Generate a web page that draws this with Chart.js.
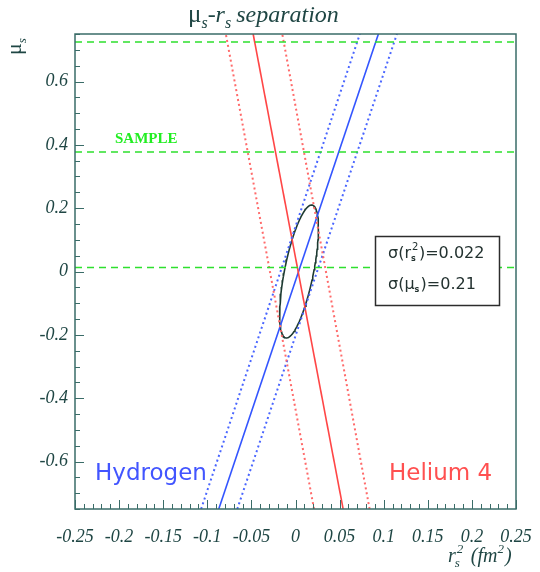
<!DOCTYPE html>
<html>
<head>
<meta charset="utf-8">
<title>mu_s - r_s separation</title>
<script src="https://cdn.jsdelivr.net/npm/chart.js@4/dist/chart.umd.min.js"></script>
<style>
  html, body { margin: 0; padding: 0; background: #fff; }
  #plot { display: block; }
</style>
</head>
<body>
<canvas id="plot" width="540" height="572"></canvas>
<script>
// band edges: [x at mu=-0.75, x at mu=+0.75]
const MU_ENDS = [-0.75, 0.75];
const H_CENTRAL = [-0.087, 0.094];
const H_LOW = [-0.107, 0.073];
const H_HIGH = [-0.066, 0.115];
const HE_CENTRAL = [0.054, -0.048];
const HE_LOW = [0.021, -0.079];
const HE_HIGH = [0.084, -0.015];

// horizontal "sample" levels in mu_s
const SAMPLE_MU = [0.725, 0.377, 0.013];

// error ellipse (sigma values printed in the box)
const ELL_CENTER = [0.004, 0.0];
const SIGMA_R2 = 0.022;
const SIGMA_MU = 0.21;
const ELL_RHO = 0.65;

const X_TICKS = [-0.25, -0.2, -0.15, -0.1, -0.05, 0, 0.05, 0.1, 0.15, 0.2, 0.25];
const X_TICK_LABELS = ['-0.25', '-0.2', '-0.15', '-0.1', '-0.05', '0', '0.05', '0.1', '0.15', '0.2', '0.25'];
const Y_TICKS = [-0.6, -0.4, -0.2, 0, 0.2, 0.4, 0.6];
const Y_TICK_LABELS = ['-0.6', '-0.4', '-0.2', '0', '0.2', '0.4', '0.6'];

const AXIS_COL = '#3a6c68';
const TEXT_COL = '#1f4644';
const BLUE = '#3355ff';
const RED = '#ff4646';
const GREEN = '#2ee02e';

function band(xs, color, dash, width) {
  return {
    data: [{ x: xs[0], y: MU_ENDS[0] }, { x: xs[1], y: MU_ENDS[1] }],
    showLine: true, pointRadius: 0, borderColor: color,
    borderWidth: width, borderDash: dash, fill: false
  };
}

function ellipsePoints() {
  const pts = [];
  const k = Math.sqrt(1 - ELL_RHO * ELL_RHO);
  for (let i = 0; i <= 120; i++) {
    const t = i / 120 * Math.PI * 2;
    pts.push({
      x: ELL_CENTER[0] + SIGMA_R2 * Math.cos(t),
      y: ELL_CENTER[1] + SIGMA_MU * (ELL_RHO * Math.cos(t) + k * Math.sin(t))
    });
  }
  return pts;
}

const datasets = [];
SAMPLE_MU.forEach(m => {
  datasets.push({
    data: [{ x: -0.25, y: m }, { x: 0.25, y: m }],
    showLine: true, pointRadius: 0, borderColor: GREEN,
    borderWidth: 1.5, borderDash: [7, 5]
  });
});
datasets.push(band(HE_LOW, '#ff6a6a', [2, 3], 2));
datasets.push(band(HE_HIGH, '#ff6a6a', [2, 3], 2));
datasets.push(band(H_LOW, '#4a66ff', [2, 3], 2));
datasets.push(band(H_HIGH, '#4a66ff', [2, 3], 2));
datasets.push(band(HE_CENTRAL, RED, [], 1.6));
datasets.push(band(H_CENTRAL, BLUE, [], 1.6));
datasets.push({
  data: ellipsePoints(), showLine: true, pointRadius: 0,
  borderColor: '#1d3a32', borderWidth: 1.6, tension: 0
});

// draws the frame, inward ticks and all the annotation text
const decorations = {
  id: 'decorations',
  afterDatasetsDraw(chart) {
    const ctx = chart.ctx;
    const a = chart.chartArea;
    const xs = chart.scales.x, ys = chart.scales.y;
    ctx.save();

    // frame
    ctx.strokeStyle = AXIS_COL;
    ctx.lineWidth = 1.5;
    ctx.strokeRect(a.left, a.top, a.right - a.left, a.bottom - a.top);

    // ticks
    ctx.lineWidth = 1;
    ctx.beginPath();
    for (let i = -25; i <= 25; i++) {
      const px = Math.round(xs.getPixelForValue(i / 100)) + 0.5;
      const len = i % 5 === 0 ? 9 : 5;
      ctx.moveTo(px, a.bottom);
      ctx.lineTo(px, a.bottom - len);
    }
    for (let i = -15; i <= 15; i++) {
      const py = Math.round(ys.getPixelForValue(i * 0.05)) + 0.5;
      const len = i % 4 === 0 ? 9 : 5;
      ctx.moveTo(a.left, py);
      ctx.lineTo(a.left + len, py);
    }
    ctx.stroke();

    // title
    ctx.fillStyle = TEXT_COL;
    ctx.textBaseline = 'alphabetic';
    let x = 188;
    const tb = 22;
    ctx.font = '25px "Liberation Serif"';
    ctx.fillText('\u03bc', x, tb); x += ctx.measureText('\u03bc').width;
    ctx.font = 'italic 16px "Liberation Serif"';
    ctx.fillText('s', x, tb + 6); x += ctx.measureText('s').width;
    ctx.font = 'italic 24px "Liberation Serif"';
    ctx.fillText('-r', x, tb); x += ctx.measureText('-r').width;
    ctx.font = 'italic 16px "Liberation Serif"';
    ctx.fillText('s', x, tb + 6); x += ctx.measureText('s').width + 5;
    ctx.font = 'italic 24px "Liberation Serif"';
    ctx.fillText('separation', x, tb);

    // y title, rotated
    ctx.save();
    ctx.translate(21, 55);
    ctx.rotate(-Math.PI / 2);
    ctx.font = '22px "Liberation Serif"';
    ctx.fillText('\u03bc', 0, 0);
    const mw = ctx.measureText('\u03bc').width;
    ctx.font = 'italic 13px "Liberation Serif"';
    ctx.fillText('s', mw, 5);
    ctx.restore();

    // x title
    x = 448;
    const xb = 562;
    ctx.font = 'italic 20px "Liberation Serif"';
    ctx.fillText('r', x, xb); x += ctx.measureText('r').width;
    ctx.font = 'italic 13px "Liberation Serif"';
    ctx.fillText('s', x - 1, xb + 5);
    ctx.fillText('2', x + 1, xb - 9); x += 10;
    ctx.font = 'italic 20px "Liberation Serif"';
    ctx.fillText(' (fm', x, xb); x += ctx.measureText(' (fm').width;
    ctx.font = 'italic 13px "Liberation Serif"';
    ctx.fillText('2', x, xb - 9); x += ctx.measureText('2').width + 1;
    ctx.font = 'italic 20px "Liberation Serif"';
    ctx.fillText(')', x, xb);

    // SAMPLE tag
    ctx.fillStyle = '#22ee22';
    ctx.font = 'bold 15px "Liberation Serif"';
    ctx.fillText('SAMPLE', 115, 143);

    // nucleus labels
    ctx.font = '23px "DejaVu Sans"';
    ctx.fillStyle = '#4255ff';
    ctx.fillText('Hydrogen', 95, 480);
    ctx.fillStyle = '#ff5050';
    ctx.fillText('Helium 4', 389, 480);

    // sigma box
    ctx.fillStyle = '#fff';
    ctx.fillRect(375, 236, 124, 69);
    ctx.strokeStyle = '#2c2c2c';
    ctx.lineWidth = 1.5;
    ctx.strokeRect(375.5, 236.5, 124, 69);
    ctx.fillStyle = '#233230';
    const bx = 388;
    x = bx;
    ctx.font = '16px "DejaVu Sans"';
    ctx.fillText('\u03c3(r', x, 258); x += ctx.measureText('\u03c3(r').width;
    ctx.font = 'bold 8px "DejaVu Sans"';
    ctx.fillText('s', x, 261);
    ctx.font = '10px "DejaVu Sans"';
    ctx.fillText('2', x + 1, 250); x += 8;
    ctx.font = '16px "DejaVu Sans"';
    ctx.fillText(')=0.022', x, 258);
    x = bx;
    ctx.fillText('\u03c3(\u03bc', x, 289); x += ctx.measureText('\u03c3(\u03bc').width;
    ctx.font = 'bold 8px "DejaVu Sans"';
    ctx.fillText('s', x, 292); x += 6;
    ctx.font = '16px "DejaVu Sans"';
    ctx.fillText(')=0.21', x, 289);

    ctx.restore();
  }
};

new Chart(document.getElementById('plot'), {
  type: 'scatter',
  data: { datasets },
  options: {
    responsive: false,
    animation: false,
    devicePixelRatio: 1,
    layout: { padding: { left: 0, top: 34, right: 24, bottom: 0 } },
    plugins: { legend: { display: false }, tooltip: { enabled: false }, title: { display: false } },
    scales: {
      x: {
        type: 'linear', min: -0.25, max: 0.25,
        afterBuildTicks: s => { s.ticks = X_TICKS.map(v => ({ value: v })); },
        afterFit: s => { s.height = 63; s.paddingLeft = 0; s.paddingRight = 0; },
        grid: { display: false, drawTicks: false },
        border: { display: false },
        ticks: {
          padding: 17, maxRotation: 0, autoSkip: false,
          color: TEXT_COL,
          font: { family: 'Liberation Serif', style: 'italic', size: 18 },
          callback: (v, i) => X_TICK_LABELS[i]
        }
      },
      y: {
        type: 'linear', min: -0.75, max: 0.75,
        afterBuildTicks: s => { s.ticks = Y_TICKS.map(v => ({ value: v })); },
        afterFit: s => { s.width = 75; s.paddingTop = 0; s.paddingBottom = 0; },
        grid: { display: false, drawTicks: false },
        border: { display: false },
        ticks: {
          padding: 7, autoSkip: false,
          color: TEXT_COL,
          font: { family: 'Liberation Serif', style: 'italic', size: 18 },
          callback: (v, i) => Y_TICK_LABELS[i]
        }
      }
    }
  },
  plugins: [decorations]
});
</script>
</body>
</html>
